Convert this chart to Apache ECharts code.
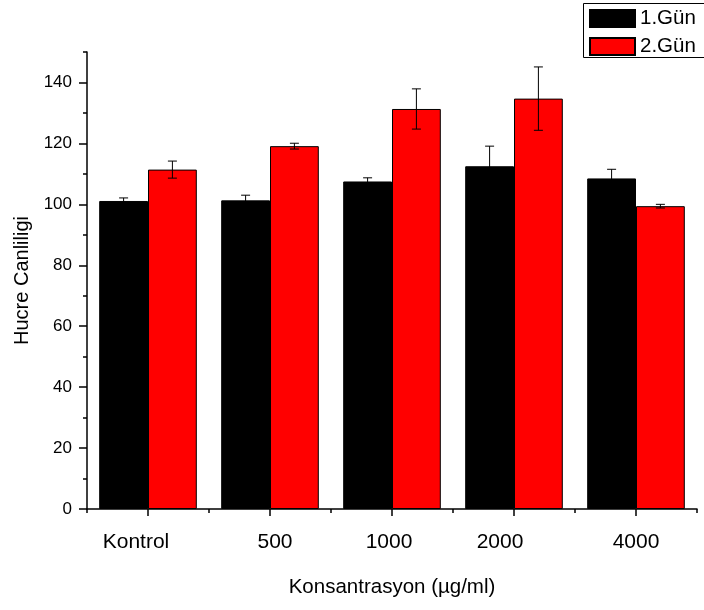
<!DOCTYPE html>
<html>
<head>
<meta charset="utf-8">
<script src="https://cdn.jsdelivr.net/npm/echarts@6/dist/echarts.min.js"></script>
<style>
  html, body { margin: 0; padding: 0; background: #fff; }
  #chart { width: 704px; height: 610px; }
</style>
</head>
<body>
<div id="chart"></div>
<script>
// ---- data ----
const categories = ['Kontrol', '500', '1000', '2000', '4000'];
const seriesNames = ['1.Gün', '2.Gün'];
const day1 = [101.1, 101.3, 107.5, 112.5, 108.5];
const day1Err = [1.0, 1.7, 1.2, 6.6, 3.0];
const day2 = [111.4, 119.1, 131.3, 134.7, 99.4];
const day2Err = [2.8, 0.95, 6.6, 10.4, 0.6];
const yTickLabels = [0, 20, 40, 60, 80, 100, 120, 140];

// ---- style ----
const FONT = "'Liberation Sans', Arial, sans-serif";
const labelShift = [-12, 5, -3, -14, 0];
const BAR_HALF_OFFSET = 0.2; // fraction of band width

const rich = {};
labelShift.forEach((s, i) => {
  rich['s' + i] = {
    fontSize: 21, fontFamily: FONT, color: '#000',
    padding: s < 0 ? [0, -2 * s, 0, 0] : [0, 0, 0, 2 * s]
  };
});

function errData(vals, errs) {
  return vals.map((v, i) => [i, v - errs[i], v + errs[i]]);
}

function errRender(sign) {
  return function (params, api) {
    const idx = api.value(0);
    const lo = api.coord([idx, api.value(1)]);
    const hi = api.coord([idx, api.value(2)]);
    const band = api.size([1, 0])[0];
    const x = lo[0] + sign * band * BAR_HALF_OFFSET;
    const cap = 4.5;
    const style = { stroke: '#000', lineWidth: 1 };
    return {
      type: 'group',
      children: [
        { type: 'line', shape: { x1: x, y1: lo[1], x2: x, y2: hi[1] }, style },
        { type: 'line', shape: { x1: x - cap, y1: hi[1], x2: x + cap, y2: hi[1] }, style },
        { type: 'line', shape: { x1: x - cap, y1: lo[1], x2: x + cap, y2: lo[1] }, style }
      ]
    };
  };
}

const axisLineStyle = { color: '#000', width: 1.5 };

const chart = echarts.init(document.getElementById('chart'), null, { renderer: 'canvas' });
chart.setOption({
  animation: false,
  backgroundColor: '#fff',
  textStyle: { fontFamily: FONT },
  grid: [
    { left: 87, right: 7, top: 52, bottom: 101 },
    { left: 87, right: 7, top: 82.47, bottom: 101 }
  ],
  graphic: [
    {
      type: 'rect', z: 10,
      shape: { x: 583.5, y: 3.5, width: 160, height: 54 },
      style: { fill: 'none', stroke: '#000', lineWidth: 1 }
    }
  ],
  legend: {
    data: seriesNames,
    orient: 'vertical',
    left: 583,
    top: 3,
    padding: [5, 6, 3, 6],
    itemWidth: 45,
    itemHeight: 17,
    itemGap: 7,
    borderWidth: 0,
    icon: 'rect',
    textStyle: { fontSize: 20.5, fontFamily: FONT, color: '#000' }
  },
  xAxis: [
    {
      type: 'category', gridIndex: 0, data: categories,
      boundaryGap: true,
      axisLine: { show: true, lineStyle: axisLineStyle },
      axisTick: { show: true, length: 4, lineStyle: axisLineStyle },
      axisLabel: { show: false },
      splitLine: { show: false },
      name: 'Konsantrasyon (µg/ml)',
      nameLocation: 'middle',
      nameGap: 68,
      nameTextStyle: { fontSize: 20.5, fontFamily: FONT, color: '#000' }
    },
    {
      type: 'category', gridIndex: 1, data: categories,
      boundaryGap: true,
      axisLine: { show: false },
      axisTick: { show: true, alignWithLabel: true, interval: 0, length: 7, lineStyle: axisLineStyle },
      axisLabel: {
        show: true, interval: 0, hideOverlap: false, margin: 23, color: '#000', fontSize: 21, fontFamily: FONT,
        formatter: (v, i) => '{s' + i + '|' + v + '}',
        rich: rich
      },
      splitLine: { show: false }
    }
  ],
  yAxis: [
    {
      type: 'value', gridIndex: 0, min: 0, max: 150, interval: 10,
      axisLine: { show: true, lineStyle: axisLineStyle },
      axisTick: { show: true, length: 4, lineStyle: axisLineStyle },
      axisLabel: { show: false },
      splitLine: { show: false },
      name: 'Hucre Canliligi',
      nameLocation: 'middle',
      nameGap: 55,
      nameTextStyle: { fontSize: 20, fontFamily: FONT, color: '#000' }
    },
    {
      type: 'value', gridIndex: 1, min: 0, max: 140, interval: 20,
      axisLine: { show: false },
      axisTick: { show: true, length: 8, lineStyle: axisLineStyle },
      axisLabel: {
        show: true, margin: 15, color: '#000', fontSize: 17, fontFamily: FONT,
        formatter: v => (yTickLabels.indexOf(v) >= 0 ? String(v) : '')
      },
      splitLine: { show: false }
    }
  ],
  series: [
    {
      name: seriesNames[0], type: 'bar', xAxisIndex: 0, yAxisIndex: 0,
      data: day1, barGap: '0%', barCategoryGap: '20%',
      itemStyle: { color: '#000', borderColor: '#000', borderWidth: 1 }
    },
    {
      name: seriesNames[1], type: 'bar', xAxisIndex: 0, yAxisIndex: 0,
      data: day2, barGap: '0%', barCategoryGap: '20%',
      itemStyle: { color: '#ff0000', borderColor: '#000', borderWidth: 1 }
    },
    {
      name: 'err1', type: 'custom', xAxisIndex: 0, yAxisIndex: 0,
      data: errData(day1, day1Err), renderItem: errRender(-1), z: 5,
      encode: { x: 0, y: [1, 2] }
    },
    {
      name: 'err2', type: 'custom', xAxisIndex: 0, yAxisIndex: 0,
      data: errData(day2, day2Err), renderItem: errRender(1), z: 5,
      encode: { x: 0, y: [1, 2] }
    }
  ]
});
</script>
</body>
</html>
